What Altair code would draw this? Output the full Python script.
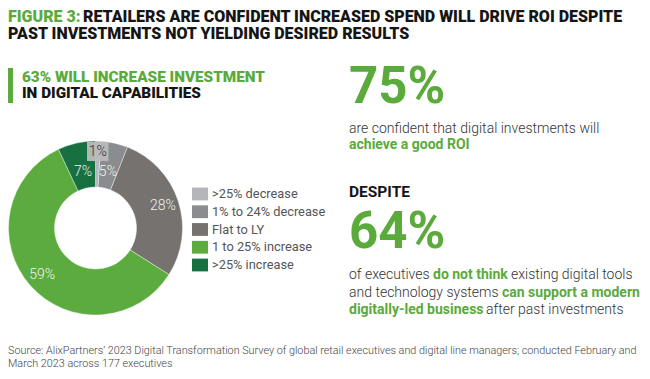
import altair as alt
import pandas as pd

# ---- data ----
categories = [">25% decrease", "1% to 24% decrease", "Flat to LY", "1 to 25% increase", ">25% increase"]
values = [1, 5, 28, 59, 7]
labels = ["1%", "5%", "28%", "59%", "7%"]
colors = ["#b4b6b9", "#8b8c8f", "#767270", "#5cab3e", "#17703f"]

title_green = "FIGURE 3:"
title_line1 = "RETAILERS ARE CONFIDENT INCREASED SPEND WILL DRIVE ROI DESPITE"
title_line2 = "PAST INVESTMENTS NOT YIELDING DESIRED RESULTS"
sub_line1 = "63% WILL INCREASE INVESTMENT"
sub_line2 = "IN DIGITAL CAPABILITIES"
stat1 = "75%"
stat1_text = "are confident that digital investments will"
stat1_green = "achieve a good ROI"
despite = "DESPITE"
stat2 = "64%"
p1 = ["of executives", "do not think", "existing digital tools"]
p2 = ["and technology systems", "can support a modern"]
p3 = ["digitally-led business", "after past investments"]
source1 = "Source: AlixPartners’ 2023 Digital Transformation Survey of global retail executives and digital line managers; conducted February and"
source2 = "March 2023 across 177 executives"

GREEN = "#5aaa3c"
BLACK = "#151515"
BODY = "#333333"
FONT = "Roboto"

df = pd.DataFrame({"idx": list(range(len(categories))), "category": categories,
                   "value": values, "label": labels})
dummy = pd.DataFrame({"k": [0]})

CX, CY = 87.5, 220
R_OUT, R_IN = 87, 41


def txt(s, x, y, size, color, weight="normal", align="left"):
    return alt.Chart(dummy).mark_text(
        align=align, baseline="alphabetic", font=FONT, fontSize=size,
        fontWeight=weight, color=color
    ).encode(x=alt.value(x), y=alt.value(y), text=alt.value(s))


base = alt.Chart(df).encode(
    theta=alt.Theta("value:Q", stack=True),
    order=alt.Order("idx:Q"),
    x=alt.value(CX), y=alt.value(CY),
)

arcs = base.mark_arc(radius=R_OUT, radius2=R_IN, stroke="white", strokeWidth=0.4).encode(
    color=alt.Color("category:N", scale=alt.Scale(domain=categories, range=colors),
                    legend=alt.Legend(orient="none", legendX=184, legendY=178, title=None,
                                      symbolType="M-1,-0.8H1V0.8H-1Z", symbolSize=256,
                                      symbolStrokeWidth=0, symbolOpacity=1,
                                      labelFont=FONT, labelFontSize=12.8, labelColor="#555555",
                                      labelOffset=4, rowPadding=2.75))
)


def lab(radius, cats, color):
    return base.mark_text(radius=radius, font=FONT, fontSize=14, fontWeight=300, color=color).encode(
        text=alt.condition(alt.FieldOneOfPredicate(field="category", oneOf=cats),
                           alt.Text("label:N"), alt.value(""))
    )


box = alt.Chart(dummy).mark_rect(color="#b8babd", opacity=0.95).encode(
    x=alt.value(CX - 8.5), x2=alt.value(CX + 13), y=alt.value(CY - 86), y2=alt.value(CY - 67)
)

labels_outer = lab(71, ["Flat to LY", "1 to 25% increase"], "#eef3ec")
labels_mid = lab(57, ["1% to 24% decrease", ">25% increase"], "#eef3ec")
labels_top = lab(76, [">25% decrease"], "#333333")

bar = alt.Chart(dummy).mark_rect(color=GREEN).encode(
    x=alt.value(0), x2=alt.value(5), y=alt.value(60), y2=alt.value(95)
)

RX = 341
BS = 14
layers = [
    txt(title_green, 0, 14, 16, GREEN, 900),
    txt(title_line1, 75, 14, 16, BLACK, 900),
    txt(title_line2, 0, 31, 16, BLACK, 900),
    bar,
    txt(sub_line1, 14, 74, 15.3, GREEN, 900),
    txt(sub_line2, 14, 89.5, 15.3, BLACK, 900),
    arcs, box, labels_outer, labels_mid, labels_top,
    txt(stat1, RX, 95, 51, GREEN, "bold"),
    txt(stat1_text, RX, 124.5, BS, BODY, 300),
    txt(stat1_green, RX, 141, BS, GREEN, "bold"),
    txt(despite, RX, 189, 15.5, BLACK, "bold"),
    txt(stat2, RX, 240, 51, GREEN, "bold"),
    txt(p1[0], RX, 271, BS, BODY, 300),
    txt(p1[1], 425, 271, BS, GREEN, "bold"),
    txt(p1[2], 503, 271, BS, BODY, 300),
    txt(p2[0], RX, 288.5, BS, BODY, 300),
    txt(p2[1], 494, 288.5, BS, GREEN, "bold"),
    txt(p3[0], RX, 306, BS, GREEN, "bold"),
    txt(p3[1], 478, 306, BS, BODY, 300),
    txt(source1, 0, 346, 10.8, "#444444", 300),
    txt(source2, 0, 359, 10.8, "#444444", 300),
]

chart = alt.layer(*layers).properties(
    width=634, height=363, padding=0,
    autosize=alt.AutoSizeParams(type="none"),
    background="white",
).configure_view(stroke=None)

chart.save("out.html", embed_options={"renderer": "svg", "actions": False})
